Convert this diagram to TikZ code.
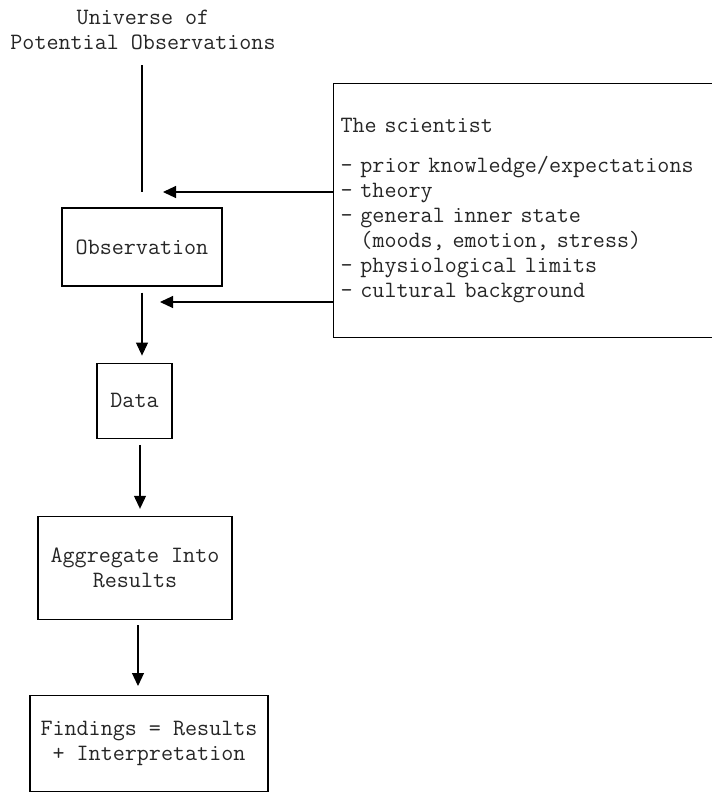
\documentclass[tikz,border=0pt]{standalone}
\usetikzlibrary{arrows.meta, positioning}

\begin{document}
\begin{tikzpicture}[x=1pt, y=1pt, font=\ttfamily\fontsize{23.4}{25}\selectfont]
    \tikzstyle{block} = [rectangle, draw, line width=1.2pt, inner sep=0pt, align=center, text=black!85]
    \tikzstyle{line} = [draw, line width=1.1pt, -{Triangle[length=13pt, width=12pt]}]

    \useasboundingbox (0,0) rectangle (712,-796);

    % nodes
    \node[align=center, text=black!85] (universe) at (143,-30) {Universe of\\Potential Observations};
    \node[block, minimum width=160pt, minimum height=78pt] (obs) at (142,-247) {Observation};
    \node[block, minimum width=75pt, minimum height=75pt, below=76pt of obs, xshift=-7.5pt] (data) {Data};
    \node[block, minimum width=194pt, minimum height=103pt, below=77pt of data, xshift=0.5pt] (agg) {Aggregate Into\\Results};
    \node[block, minimum width=238pt, minimum height=96pt, below=75pt of agg, xshift=14pt] (find) {Findings = Results\\+ Interpretation};
    \node[block, anchor=north west, align=left, minimum width=389pt, minimum height=254pt,
          text width=375pt, inner xsep=7pt] (sci) at (333,-83)
        {The scientist\\[15pt]
         - prior knowledge/expectations\\
         - theory\\
         - general inner state\\
         \phantom{- }(moods, emotion, stress)\\
         - physiological limits\\
         - cultural background};

    % free ends
    \coordinate (linetop) at (142,-192);
    \coordinate (tipa) at (163,-192);
    \coordinate (tipb) at (160,-302);

    % connectors
    \draw[line width=1.1pt] ([yshift=-12pt]universe.south -| linetop) -- (linetop);
    \path [line] (sci.west |- tipa) -- (tipa);
    \path [line] (sci.west |- tipb) -- (tipb);
    \path [line, shorten <=6pt, shorten >=7pt] (obs.south) -- (obs.south |- data.north);
    \path [line, shorten <=6pt, shorten >=7pt] ([xshift=5.5pt]data.south) -- ([xshift=5.5pt]data.south |- agg.north);
    \path [line, shorten <=5pt, shorten >=9pt] ([xshift=3pt]agg.south) -- ([xshift=3pt]agg.south |- find.north);
\end{tikzpicture}
\end{document}
